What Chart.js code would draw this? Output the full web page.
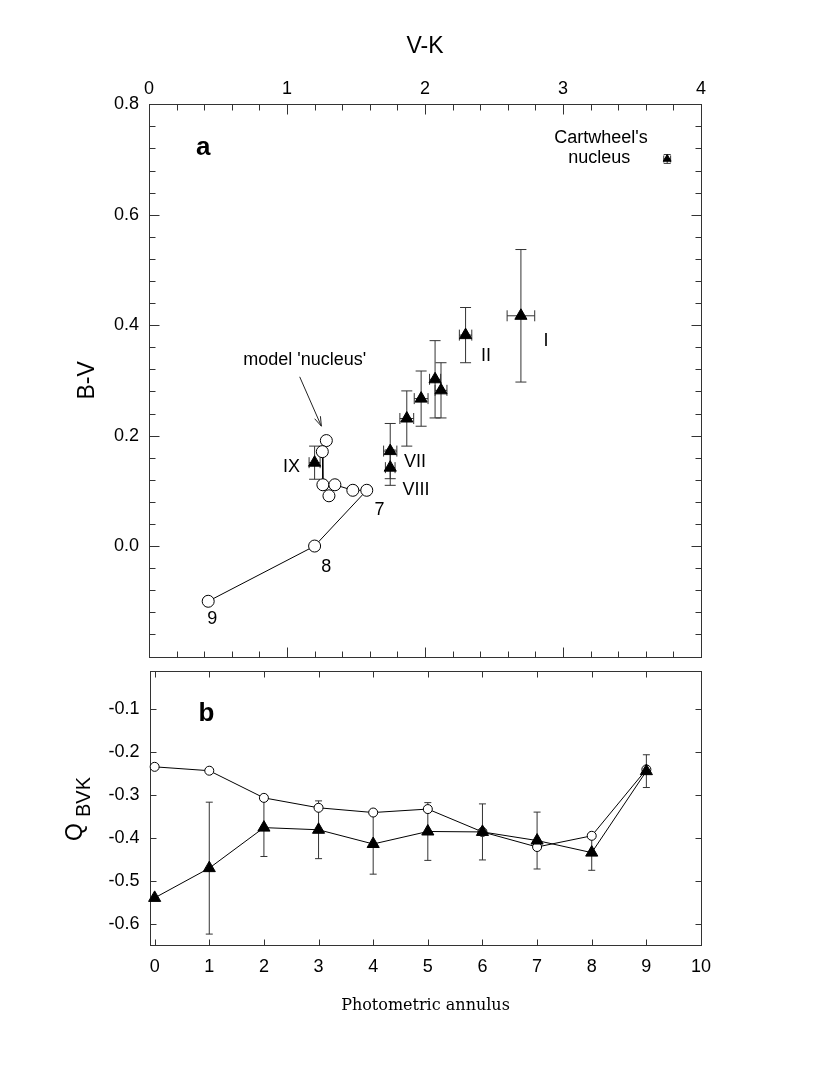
<!DOCTYPE html>
<html lang="fr">
<head>
<meta charset="utf-8">
<title>Cartwheel - couleurs B-V / V-K et indice Q(BVK)</title>
<script src="https://cdn.jsdelivr.net/npm/chart.js@4.4.1/dist/chart.umd.min.js"></script>
<style>
  html, body { margin: 0; padding: 0; background: #fff; }
  #cadre { position: relative; width: 814px; height: 1066px; }
  #cadre canvas { position: absolute; left: 0; top: 0; }
</style>
</head>
<body>
<div id="cadre">
  <canvas id="graph-a" width="814" height="1066"></canvas>
  <canvas id="graph-b" width="814" height="1066"></canvas>
</div>
<script>
// ---------- Donnees ----------

// Panneau a : B-V en fonction de V-K pour les anneaux observes
const anneauxRomains = ["I", "II", "III", "IV", "V", "VI", "VII", "VIII", "IX"];
const obsVK    = [2.695, 2.294, 2.116, 2.073, 1.972, 1.868, 1.748, 1.748, 1.200];
const obsVKErr = [0.10, 0.045, 0.043, 0.04, 0.05, 0.05, 0.048, 0.035, 0.04];
const obsBV    = [0.417, 0.382, 0.282, 0.302, 0.267, 0.231, 0.172, 0.142, 0.151];
const obsBVErr = [0.12, 0.05, 0.05, 0.07, 0.05, 0.05, 0.05, 0.032, 0.03];

// Noyau de la Cartwheel
const noyauVK    = [3.755];
const noyauVKErr = [0.025];
const noyauBV    = [0.701];
const noyauBVErr = [0.008];

// Modele (anneaux 1 a 9, le 1 etant le "noyau" du modele)
const modeleAnneaux = [1, 2, 3, 4, 5, 6, 7, 8, 9];
const modeleVK = [1.285, 1.256, 1.260, 1.304, 1.347, 1.477, 1.578, 1.200, 0.429];
const modeleBV = [0.191, 0.171, 0.111, 0.091, 0.111, 0.101, 0.101, 0.000, -0.100];

// Panneau b : Q(BVK) en fonction de l'anneau photometrique
const anneaux  = [0, 1, 2, 3, 4, 5, 6, 7, 8, 9];
const qObs     = [-0.539, -0.470, -0.376, -0.381, -0.414, -0.385, -0.386, -0.406, -0.434, -0.245];
const qObsErr  = [0, 0.153, 0.067, 0.067, 0.07, 0.067, 0.065, 0.066, 0.041, 0.038];
const qModele  = [-0.235, -0.244, -0.307, -0.330, -0.341, -0.333, -0.386, -0.421, -0.395, -0.241];

// Graduations etiquetees
const graduationsVK = [0, 1, 2, 3, 4];
const graduationsBV = [0.0, 0.2, 0.4, 0.6, 0.8];
const graduationsAnneau = [0, 1, 2, 3, 4, 5, 6, 7, 8, 9, 10];
const graduationsQ = [-0.6, -0.5, -0.4, -0.3, -0.2, -0.1];

// ---------- Mise en page ----------

const L = 814, H = 1066;
const zoneA = { gauche: 149, droite: 701, haut: 104.3, bas: 656.5 };
const zoneB = { gauche: 150, droite: 701, haut: 670.7, bas: 945.3 };
const POLICE = "'Liberation Sans', Arial, Helvetica, sans-serif";

Chart.defaults.font.family = POLICE;
Chart.defaults.color = "#000";

// Graduations majeures + mineures (sub intervalles entre deux majeures)
function sousGraduations(bas, haut, pas, sub) {
  const out = [];
  const n = Math.round((haut - bas) / (pas / sub));
  for (let i = 0; i <= n; i++) {
    const v = +(bas + i * pas / sub).toFixed(6);
    out.push({ value: v, major: i % sub === 0 });
  }
  return out;
}

function points(xs, ys) {
  return xs.map((x, i) => ({ x: x, y: ys[i] }));
}

// ---------- Plugins ----------

// Cadre + graduations tournees vers l'interieur
const cadre = {
  id: "cadre",
  beforeDatasetsDraw(chart, args, opts) {
    const { ctx, chartArea: a } = chart;
    const r = v => Math.round(v) + 0.5;
    ctx.save();
    ctx.strokeStyle = "#333";
    ctx.lineWidth = 1;
    ctx.strokeRect(r(a.left), r(a.top), Math.round(a.right) - Math.round(a.left), Math.round(a.bottom) - Math.round(a.top));
    ctx.beginPath();
    for (const s of Object.values(chart.scales)) {
      for (const t of s.ticks) {
        const len = t.major ? opts.majeure : opts.mineure;
        const p = r(s.getPixelForValue(t.value));
        if (s.position === "left") { ctx.moveTo(r(a.left), p); ctx.lineTo(r(a.left) + len, p); }
        if (s.position === "right") { ctx.moveTo(r(a.right), p); ctx.lineTo(r(a.right) - len, p); }
        if (s.position === "top") { ctx.moveTo(p, r(a.top)); ctx.lineTo(p, r(a.top) + len); }
        if (s.position === "bottom") { ctx.moveTo(p, r(a.bottom)); ctx.lineTo(p, r(a.bottom) - len); }
      }
    }
    ctx.stroke();
    ctx.restore();
  }
};

// Barres d'erreur (lues dans les proprietes erreursX / erreursY des jeux de donnees)
const barresErreur = {
  id: "barresErreur",
  beforeDatasetsDraw(chart) {
    const { ctx } = chart;
    const sx = chart.scales.x, sy = chart.scales.y;
    ctx.save();
    ctx.strokeStyle = "#333";
    ctx.lineWidth = 1;
    ctx.beginPath();
    chart.data.datasets.forEach(ds => {
      const c = ds.capot || 4;
      ds.data.forEach((pt, i) => {
        const px = sx.getPixelForValue(pt.x), py = sy.getPixelForValue(pt.y);
        const ey = ds.erreursY ? ds.erreursY[i] : 0;
        const ex = ds.erreursX ? ds.erreursX[i] : 0;
        if (ey) {
          const y1 = sy.getPixelForValue(pt.y + ey), y2 = sy.getPixelForValue(pt.y - ey);
          ctx.moveTo(px, y1); ctx.lineTo(px, y2);
          ctx.moveTo(px - c, y1); ctx.lineTo(px + c, y1);
          ctx.moveTo(px - c, y2); ctx.lineTo(px + c, y2);
        }
        if (ex) {
          const x1 = sx.getPixelForValue(pt.x - ex), x2 = sx.getPixelForValue(pt.x + ex);
          ctx.moveTo(x1, py); ctx.lineTo(x2, py);
          ctx.moveTo(x1, py - c); ctx.lineTo(x1, py + c);
          ctx.moveTo(x2, py - c); ctx.lineTo(x2, py + c);
        }
      });
    });
    ctx.stroke();
    ctx.restore();
  }
};

// Textes et fleches places en coordonnees de donnees
function creerAnnotations(textes, fleches, extra) {
  return {
    id: "annotations",
    afterDatasetsDraw(chart) {
      const { ctx } = chart;
      const sx = chart.scales.x, sy = chart.scales.y;
      ctx.save();
      ctx.fillStyle = "#000";
      ctx.textAlign = "center";
      ctx.textBaseline = "middle";
      for (const t of textes) {
        ctx.font = t.police || "18px " + POLICE;
        ctx.fillText(t.texte, sx.getPixelForValue(t.x), sy.getPixelForValue(t.y));
      }
      ctx.strokeStyle = "#222";
      ctx.lineWidth = 1;
      for (const f of fleches) {
        const x1 = sx.getPixelForValue(f.de[0]), y1 = sy.getPixelForValue(f.de[1]);
        const x2 = sx.getPixelForValue(f.a[0]), y2 = sy.getPixelForValue(f.a[1]);
        const ang = Math.atan2(y2 - y1, x2 - x1);
        ctx.beginPath();
        ctx.moveTo(x1, y1); ctx.lineTo(x2, y2);
        ctx.moveTo(x2 - 10 * Math.cos(ang - 0.32), y2 - 10 * Math.sin(ang - 0.32));
        ctx.lineTo(x2, y2);
        ctx.lineTo(x2 - 10 * Math.cos(ang + 0.32), y2 - 10 * Math.sin(ang + 0.32));
        ctx.stroke();
      }
      if (extra) extra(ctx);
      ctx.restore();
    }
  };
}

// Axe lineaire commun
function axe(position, min, max, opts) {
  return Object.assign({
    type: "linear",
    position: position,
    min: min,
    max: max,
    grid: { display: false, drawTicks: false },
    border: { display: false },
    ticks: { display: false }
  }, opts);
}

function etiquettes(liste, decimales, taille, padding) {
  return {
    display: true,
    autoSkip: false,
    maxRotation: 0,
    padding: padding,
    font: { size: taille },
    color: "#000",
    callback: v => liste.some(g => Math.abs(g - v) < 1e-6) ? (decimales ? v.toFixed(decimales) : String(v)) : ""
  };
}

// ---------- Panneau a ----------

const textesA = [
  { texte: "a", x: 0.393, y: 0.7205, police: "bold 26px " + POLICE },
  { texte: "Cartwheel's", x: 3.275, y: 0.7398 },
  { texte: "nucleus", x: 3.262, y: 0.7036 },
  { texte: "model 'nucleus'", x: 1.128, y: 0.336 },
  { texte: anneauxRomains[0], x: 2.876, y: 0.371 },
  { texte: anneauxRomains[1], x: 2.442, y: 0.345 },
  { texte: anneauxRomains[6], x: 1.928, y: 0.152 },
  { texte: anneauxRomains[7], x: 1.935, y: 0.101 },
  { texte: anneauxRomains[8], x: 1.032, y: 0.1437 },
  { texte: String(modeleAnneaux[6]), x: 1.670, y: 0.066 },
  { texte: String(modeleAnneaux[7]), x: 1.285, y: -0.038 },
  { texte: String(modeleAnneaux[8]), x: 0.458, y: -0.1326 }
];
const flechesA = [{ de: [1.092, 0.3065], a: [1.249, 0.2171] }];

new Chart(document.getElementById("graph-a"), {
  type: "scatter",
  data: {
    datasets: [
      {
        label: "Anneaux observes",
        data: points(obsVK, obsBV),
        erreursX: obsVKErr, erreursY: obsBVErr, capot: 5.5,
        pointStyle: "triangle", pointRadius: 7,
        backgroundColor: "#000", borderColor: "#000", borderWidth: 1,
        clip: false
      },
      {
        label: "Noyau",
        data: points(noyauVK, noyauBV),
        erreursX: noyauVKErr, erreursY: noyauBVErr, capot: 3.5,
        pointStyle: "triangle", pointRadius: 4.5,
        backgroundColor: "#000", borderColor: "#000", borderWidth: 1,
        clip: false
      },
      {
        label: "Modele",
        data: points(modeleVK, modeleBV),
        showLine: true,
        borderColor: "#000", borderWidth: 1,
        pointStyle: "circle", pointRadius: 6,
        pointBackgroundColor: "#fff", pointBorderColor: "#000", pointBorderWidth: 1,
        clip: false
      }
    ]
  },
  options: {
    responsive: false,
    animation: false,
    layout: { padding: 0 },
    plugins: { legend: { display: false }, tooltip: { enabled: false }, cadre: { majeure: 10, mineure: 6 } },
    scales: {
      x: axe("bottom", 0, 4, {
        afterBuildTicks: s => { s.ticks = sousGraduations(0, 4, 1, 5); },
        afterFit: s => { s.height = H - zoneA.bas; }
      }),
      x2: axe("top", 0, 4, {
        ticks: etiquettes(graduationsVK, 0, 18, 4),
        title: { display: true, text: "V-K", font: { size: 23 }, color: "#000", padding: { top: 33 } },
        afterBuildTicks: s => { s.ticks = sousGraduations(0, 4, 1, 5); },
        afterFit: s => { s.height = zoneA.haut; }
      }),
      y: axe("left", -0.2, 0.8, {
        ticks: etiquettes(graduationsBV, 1, 18, 10),
        title: { display: true, text: "B-V", font: { size: 23 }, color: "#000", padding: { top: 74 } },
        afterBuildTicks: s => { s.ticks = sousGraduations(-0.2, 0.8, 0.2, 5); },
        afterFit: s => { s.width = zoneA.gauche; }
      }),
      y2: axe("right", -0.2, 0.8, {
        afterBuildTicks: s => { s.ticks = sousGraduations(-0.2, 0.8, 0.2, 5); },
        afterFit: s => { s.width = L - zoneA.droite; }
      })
    }
  },
  plugins: [cadre, barresErreur, creerAnnotations(textesA, flechesA)]
});

// ---------- Panneau b ----------

const textesB = [
  { texte: "b", x: 0.948, y: -0.111, police: "bold 26px " + POLICE }
];

// Titre Q avec indice BVK (vertical)
function titreQ(ctx) {
  ctx.save();
  ctx.translate(76, 832);
  ctx.rotate(-Math.PI / 2);
  ctx.textAlign = "center";
  ctx.textBaseline = "middle";
  ctx.font = "23px " + POLICE;
  ctx.fillText("Q", 0, 0);
  ctx.font = "20px " + POLICE;
  ctx.fillText("BVK", 35, 8);
  ctx.restore();
}

new Chart(document.getElementById("graph-b"), {
  type: "scatter",
  data: {
    datasets: [
      {
        label: "Q observe",
        data: points(anneaux, qObs),
        erreursY: qObsErr, capot: 3.5,
        showLine: true,
        borderColor: "#000", borderWidth: 1,
        pointStyle: "triangle", pointRadius: 7,
        pointBackgroundColor: "#000", pointBorderColor: "#000", pointBorderWidth: 1,
        clip: false
      },
      {
        label: "Q modele",
        data: points(anneaux, qModele),
        showLine: true,
        borderColor: "#000", borderWidth: 1,
        pointStyle: "circle", pointRadius: 4.5,
        pointBackgroundColor: "#fff", pointBorderColor: "#000", pointBorderWidth: 1,
        clip: false
      }
    ]
  },
  options: {
    responsive: false,
    animation: false,
    layout: { padding: 0 },
    plugins: { legend: { display: false }, tooltip: { enabled: false }, cadre: { majeure: 6, mineure: 6 } },
    scales: {
      x: axe("bottom", -0.085, 10, {
        ticks: etiquettes(graduationsAnneau, 0, 18, 10.5),
        title: {
          display: true, text: "Photometric annulus", color: "#000",
          font: { family: "'DejaVu Serif', 'Liberation Serif', serif", size: 16 },
          padding: { bottom: 51 }
        },
        afterBuildTicks: s => { s.ticks = graduationsAnneau.map(v => ({ value: v, major: true })); },
        afterFit: s => { s.height = H - zoneB.bas; }
      }),
      x2: axe("top", -0.085, 10, {
        afterBuildTicks: s => { s.ticks = graduationsAnneau.map(v => ({ value: v, major: true })); },
        afterFit: s => { s.height = zoneB.haut; }
      }),
      y: axe("left", -0.649, -0.012, {
        ticks: etiquettes(graduationsQ, 1, 18, 10.5),
        afterBuildTicks: s => { s.ticks = graduationsQ.map(v => ({ value: v, major: true })); },
        afterFit: s => { s.width = zoneB.gauche; }
      }),
      y2: axe("right", -0.649, -0.012, {
        afterBuildTicks: s => { s.ticks = graduationsQ.map(v => ({ value: v, major: true })); },
        afterFit: s => { s.width = L - zoneB.droite; }
      })
    }
  },
  plugins: [cadre, barresErreur, creerAnnotations(textesB, [], titreQ)]
});
</script>
</body>
</html>
